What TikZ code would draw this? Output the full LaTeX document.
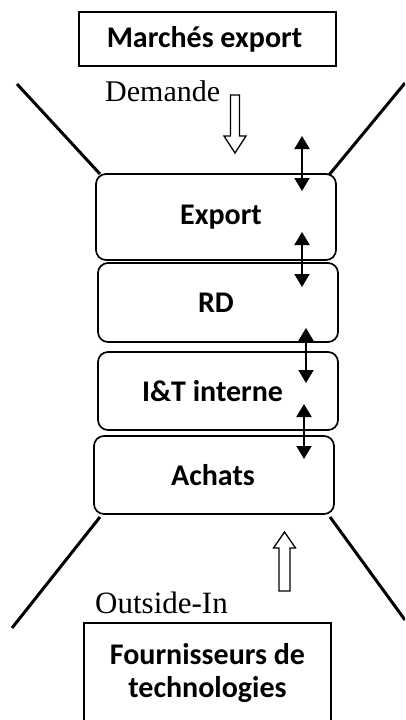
\documentclass[tikz,border=0pt]{standalone}
\usepackage{fontspec}
\setmainfont{Liberation Serif}
\newfontfamily\boxfont{Carlito}
\usetikzlibrary{arrows.meta}
\begin{document}
\begin{tikzpicture}[x=1pt,y=-1pt,
  rbox/.style={draw, line width=1.7pt, rounded corners=10pt, minimum width=240pt, inner sep=0pt,
    font=\boxfont\bfseries\fontsize{30}{33}\selectfont},
  sbox/.style={draw, line width=1.7pt, inner sep=0pt, align=center,
    font=\boxfont\bfseries\fontsize{30}{32.5}\selectfont},
  funnel/.style={line width=3pt},
  dbl/.style={line width=2pt, {Triangle[width=15pt,length=13pt]}-{Triangle[width=15pt,length=13pt]}},
  hollow/.style={draw, line width=1.3pt, fill=white, line join=miter},
  lbl/.style={inner sep=0pt, anchor=base west}
]
\path[use as bounding box, clip] (0,0) rectangle (405,720);
\fill[white] (0,0) rectangle (405,720);

% top and bottom boxes
\node[sbox, minimum width=257pt, minimum height=54pt] (marches) at (207.5,39) {Marchés export\hspace*{6pt}};
\node[sbox, minimum width=247pt, minimum height=100pt, anchor=north] (fourn) at (207.5,622) {Fournisseurs de\\technologies};

% stacked rounded boxes
\node[rbox, minimum height=86pt] (export) at (216,217) {\hspace*{10pt}Export};
\node[rbox, minimum height=79pt] (rd) at (218,302.5) {RD\hspace*{4pt}};
\node[rbox, minimum height=78pt] (it) at (218,391) {I\&T interne\hspace*{11pt}};
\node[rbox, minimum height=78pt] (achats) at (214,475) {Achats\hspace*{2pt}};

% labels
\node[lbl, font=\fontsize{30}{34}\selectfont] (demande) at (105,101) {Demande};
\node[lbl, font=\fontsize{31}{35}\selectfont] (outside) at (95,613) {Outside-In};

% funnel lines
\coordinate (tl) at (17,84);
\coordinate (tr) at (405,83);
\coordinate (bl) at (12,628);
\coordinate (br) at (405,620);
\coordinate (etl) at (100,174);
\coordinate (etr) at (329,175);
\coordinate (abl) at (100,517);
\coordinate (abr) at (330,517);
\draw[funnel] (tl) -- (etl);
\draw[funnel] (tr) -- (etr);
\draw[funnel] (bl) -- (abl);
\draw[funnel] (br) -- (abr);

% hollow arrows
\draw[hollow] (230.5,95) -- (239.5,95) -- (239.5,136) -- (246,136) -- (235,153) -- (224,136) -- (230.5,136) -- cycle;
\draw[hollow] (279,591) -- (290,591) -- (290,548) -- (295.5,548) -- (284.5,532) -- (273.5,548) -- (279,548) -- cycle;

% double arrows
\coordinate (d1a) at (302,136); \coordinate (d1b) at (302,191);
\coordinate (d2a) at (302,232); \coordinate (d2b) at (302,287);
\coordinate (d3a) at (306,328); \coordinate (d3b) at (306,383);
\coordinate (d4a) at (304,404); \coordinate (d4b) at (304,459);
\draw[dbl] (d1a) -- (d1b);
\draw[dbl] (d2a) -- (d2b);
\draw[dbl] (d3a) -- (d3b);
\draw[dbl] (d4a) -- (d4b);
\end{tikzpicture}
\end{document}
